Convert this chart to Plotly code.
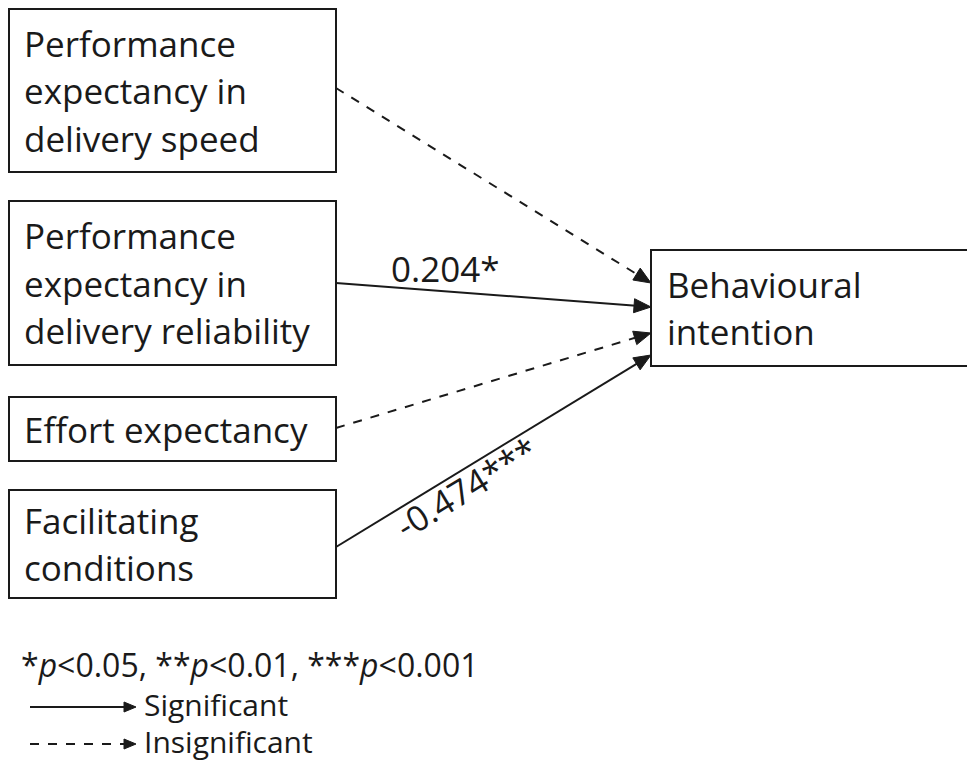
import numpy as np
import plotly.graph_objects as go

W, H = 975, 771
OFF = 8  # page body margin
FONT = "Open Sans"
FS = 35
FS_LEG = 30

# Node boxes (left, top, right, bottom) and their text lines
source_labels = [
    ["Performance", "expectancy in", "delivery speed"],
    ["Performance", "expectancy in", "delivery reliability"],
    ["Effort expectancy"],
    ["Facilitating", "conditions"],
]
source_boxes = [
    (9, 9, 336, 172),
    (9, 201, 336, 365),
    (9, 397, 336, 461),
    (9, 490, 336, 598),
]
target_label = ["Behavioural", "intention"]
target_box = (651, 250, 980, 366)

# Paths: start y on source box right edge, end y on target left edge
path_start_y = [88, 283, 428, 547]
path_end_y = [283, 307, 333, 355]
path_significant = [False, True, False, True]
path_coef = [None, "0.204*", None, "-0.474***"]

legend_note = "*<i>p</i><0.05, **<i>p</i><0.01, ***<i>p</i><0.001"
legend_items = ["Significant", "Insignificant"]

fig = go.Figure()
shapes = []
annotations = []
INK = "#1a1a1a"


def box(b):
    shapes.append(dict(type="rect", x0=b[0], y0=b[1], x1=b[2], y1=b[3],
                       line=dict(color=INK, width=2), fillcolor="white", layer="below"))


def lines_text(b, lines, x):
    n = len(lines)
    cy = (b[1] + b[3]) / 2
    lh = 47.5
    for i, t in enumerate(lines):
        y = cy + (i - (n - 1) / 2) * lh
        annotations.append(dict(x=x, y=y, text=t, showarrow=False, xanchor="left",
                                yanchor="middle", font=dict(family=FONT, size=FS, color=INK)))


def arrow(x0, y0, x1, y1, dashed, hl=17, hw=7):
    d = np.array([x1 - x0, y1 - y0], float)
    L = np.hypot(*d)
    u = d / L
    n = np.array([-u[1], u[0]])
    bx, by = np.array([x1, y1]) - u * hl
    shapes.append(dict(type="line", x0=x0, y0=y0, x1=bx + u[0] * 2, y1=by + u[1] * 2,
                       line=dict(color=INK, width=2, dash="dash" if dashed else "solid")))
    p1 = np.array([bx, by]) + n * hw
    p2 = np.array([bx, by]) - n * hw
    path = f"M {x1},{y1} L {p1[0]},{p1[1]} L {p2[0]},{p2[1]} Z"
    shapes.append(dict(type="path", path=path, fillcolor=INK,
                       line=dict(color=INK, width=1)))


for b, lab in zip(source_boxes, source_labels):
    box(b)
    lines_text(b, lab, 22)
box(target_box)
lines_text(target_box, target_label, target_box[0] + 14)

for b, ys, ye, sig, coef in zip(source_boxes, path_start_y, path_end_y, path_significant, path_coef):
    x0, x1 = b[2], target_box[0]
    arrow(x0, ys, x1, ye, not sig)
    if coef:
        ang = np.degrees(np.arctan2(ye - ys, x1 - x0))
        if abs(ang) < 10:
            annotations.append(dict(x=445, y=268, text=coef, showarrow=False,
                                    font=dict(family=FONT, size=FS, color=INK)))
        else:
            annotations.append(dict(x=466, y=487, text=coef, showarrow=False, textangle=ang,
                                    font=dict(family=FONT, size=FS, color=INK)))

# Legend
annotations.append(dict(x=19, y=664, text=legend_note, showarrow=False, xanchor="left",
                        font=dict(family=FONT, size=FS_LEG + 2, color=INK)))
for i, (t, dashed) in enumerate(zip(legend_items, [False, True])):
    y = 704 + i * 37
    arrow(30, y + 3, 136, y + 3, dashed, hl=12, hw=5)
    annotations.append(dict(x=143, y=y, text=t, showarrow=False, xanchor="left",
                            borderpad=0, font=dict(family=FONT, size=FS_LEG, color=INK)))

fig.update_layout(
    width=W - 2 * OFF, height=H - 2 * OFF, margin=dict(l=0, r=0, t=0, b=0),
    plot_bgcolor="white", paper_bgcolor="white",
    xaxis=dict(range=[OFF, W - OFF], visible=False, fixedrange=True),
    yaxis=dict(range=[H - OFF, OFF], visible=False, fixedrange=True),
    shapes=shapes, annotations=annotations, showlegend=False,
)
fig.write_html("out.html")
